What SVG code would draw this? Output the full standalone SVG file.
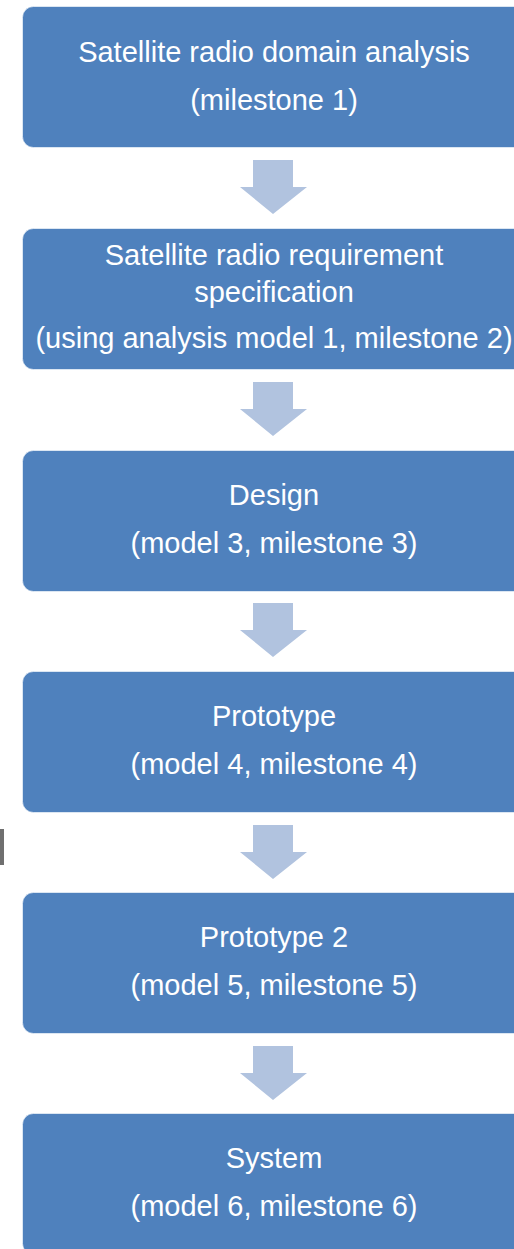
<svg xmlns="http://www.w3.org/2000/svg" width="514" height="1249" viewBox="0 0 514 1249">
<style>
.box{fill:#4F81BD;stroke:#FFFFFF;stroke-opacity:0.6;stroke-width:1}
.arr{fill:#B1C3DF}
.t{font-family:"Liberation Sans",Arial,sans-serif;font-size:29px;fill:#FFFFFF;text-anchor:middle}
</style>
<defs>
<path id="arrow" d="M253,0 H293 V27 H307 L273,54 L240,27 H253 Z"/>
</defs>
<rect x="0" y="0" width="514" height="1249" fill="#FFFFFF"/>
<rect x="0" y="829" width="4" height="36" fill="#6F6F6F"/>
<g id="connectors">
<use href="#arrow" class="arr" y="160"/>
<use href="#arrow" class="arr" y="382"/>
<use href="#arrow" class="arr" y="603"/>
<use href="#arrow" class="arr" y="825"/>
<use href="#arrow" class="arr" y="1046"/>
</g>
<g id="node1">
<rect class="box" x="22.5" y="6.5" width="504" height="141" rx="11"/>
<text class="t" x="274" y="62">Satellite radio domain analysis</text>
<text class="t" x="274" y="110">(milestone 1)</text>
</g>
<g id="node2">
<rect class="box" x="22.5" y="228.5" width="504" height="141" rx="11"/>
<text class="t" x="274" y="265">Satellite radio requirement</text>
<text class="t" x="274" y="302">specification</text>
<text class="t" x="274" y="348">(using analysis model 1, milestone 2)</text>
</g>
<g id="node3">
<rect class="box" x="22.5" y="450.5" width="504" height="141" rx="11"/>
<text class="t" x="274" y="505">Design</text>
<text class="t" x="274" y="553">(model 3, milestone 3)</text>
</g>
<g id="node4">
<rect class="box" x="22.5" y="671.5" width="504" height="141" rx="11"/>
<text class="t" x="274" y="726">Prototype</text>
<text class="t" x="274" y="774">(model 4, milestone 4)</text>
</g>
<g id="node5">
<rect class="box" x="22.5" y="892.5" width="504" height="141" rx="11"/>
<text class="t" x="274" y="947">Prototype 2</text>
<text class="t" x="274" y="995">(model 5, milestone 5)</text>
</g>
<g id="node6">
<rect class="box" x="22.5" y="1113.5" width="504" height="141" rx="11"/>
<text class="t" x="274" y="1168">System</text>
<text class="t" x="274" y="1216">(model 6, milestone 6)</text>
</g>
</svg>
